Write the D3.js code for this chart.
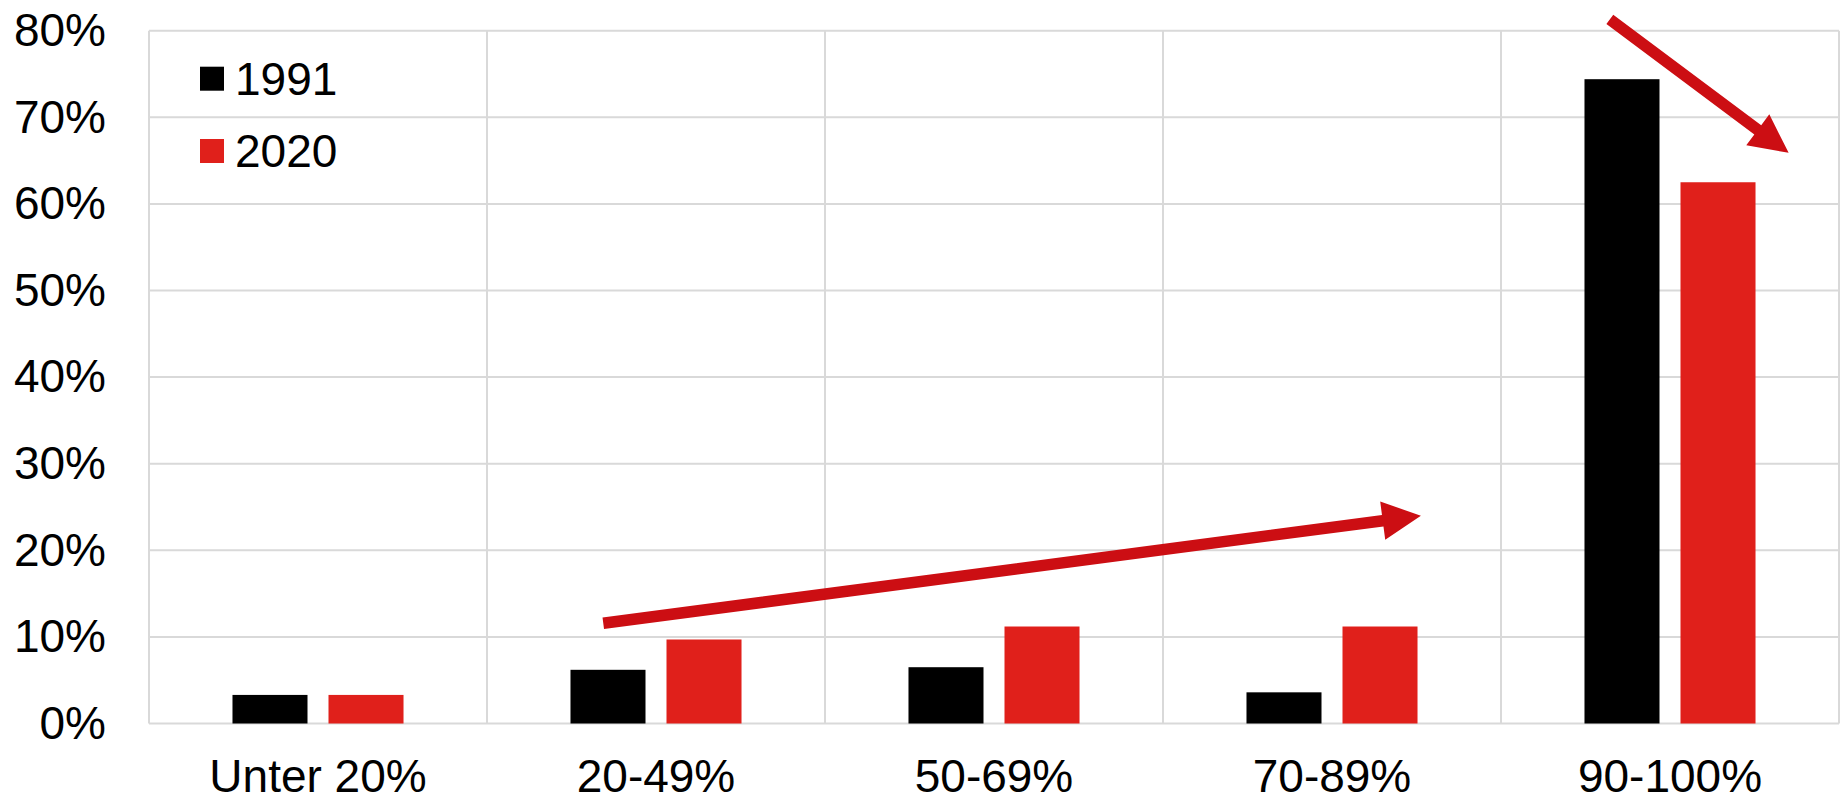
<!DOCTYPE html>
<html>
<head>
<meta charset="utf-8">
<script src="https://cdn.jsdelivr.net/npm/d3@7"></script>
<style>
  html, body { margin: 0; padding: 0; background: #ffffff; }
  svg { display: block; font-family: "Liberation Sans", Arial, sans-serif; }
</style>
</head>
<body>
<svg id="chart" width="1847" height="801"></svg>
<script>
// ---- Data ----
const categories = ["Unter 20%", "20-49%", "50-69%", "70-89%", "90-100%"];
const seriesNames = ["1991", "2020"];
const values1991 = [0.033, 0.062, 0.065, 0.036, 0.744];
const values2020 = [0.033, 0.097, 0.112, 0.112, 0.625];
const seriesColors = ["#000000", "#e0201b"];
const yTicks = [0, 0.1, 0.2, 0.3, 0.4, 0.5, 0.6, 0.7, 0.8];
const yTickLabels = ["0%", "10%", "20%", "30%", "40%", "50%", "60%", "70%", "80%"];
// Annotation arrows: [category, fraction across category, value]
const arrowFrom = [["20-49%", 0.344, 0.1157], ["90-100%", 0.322, 0.813]];
const arrowTo   = [["70-89%", 0.763, 0.240], ["90-100%", 0.851, 0.659]];
const arrowColor = "#cc0e13";

// ---- Layout ----
const W = 1847, H = 801;
const margin = { top: 30.7, right: 8, bottom: 77.5, left: 149 };
const svg = d3.select("#chart");
const plotW = W - margin.left - margin.right;
const plotH = H - margin.top - margin.bottom;
const g = svg.append("g").attr("transform", `translate(${margin.left},${margin.top})`);

const x = d3.scaleBand().domain(categories).range([0, plotW]).padding(0);
const xs = d3.scaleBand().domain(seriesNames)
  .range([x.bandwidth() * 0.247, x.bandwidth() * 0.753])
  .paddingInner(0.21875).paddingOuter(0);
const y = d3.scaleLinear().domain([0, 0.8]).range([plotH, 0]);

const gridColor = "#d9d9d9";

// horizontal gridlines
g.append("g").selectAll("line").data(yTicks).join("line")
  .attr("x1", 0).attr("x2", plotW)
  .attr("y1", d => y(d)).attr("y2", d => y(d))
  .attr("stroke", gridColor).attr("stroke-width", 2);

// vertical gridlines (category boundaries)
const bounds = categories.map(c => x(c)).concat([plotW]);
g.append("g").selectAll("line").data(bounds).join("line")
  .attr("x1", d => d).attr("x2", d => d)
  .attr("y1", 0).attr("y2", plotH)
  .attr("stroke", gridColor).attr("stroke-width", 2);

// y axis labels
const yAxis = d3.axisLeft(y).tickValues(yTicks).tickFormat((d, i) => yTickLabels[i]).tickSize(0).tickPadding(43);
const ya = g.append("g").call(yAxis);
ya.select(".domain").remove();
ya.selectAll("text").attr("font-size", 46).attr("fill", "#000")
  .attr("font-family", '"Liberation Sans", Arial, sans-serif');

// x axis labels
const xAxis = d3.axisBottom(x).tickSize(0).tickPadding(36);
const xa = g.append("g").attr("transform", `translate(0,${plotH})`).call(xAxis);
xa.select(".domain").remove();
xa.selectAll("text").attr("font-size", 46).attr("fill", "#000")
  .attr("font-family", '"Liberation Sans", Arial, sans-serif');

// bars
const seriesValues = [values1991, values2020];
seriesNames.forEach((s, si) => {
  g.append("g").selectAll("rect").data(categories).join("rect")
    .attr("x", (c) => x(c) + xs(s))
    .attr("width", xs.bandwidth())
    .attr("y", (c, i) => y(seriesValues[si][i]))
    .attr("height", (c, i) => plotH - y(seriesValues[si][i]))
    .attr("fill", seriesColors[si]);
});

// legend
const legend = g.append("g").attr("transform", "translate(51,0)");
seriesNames.forEach((s, i) => {
  const cy = 48 + i * 72.3;
  legend.append("rect").attr("x", 0).attr("y", cy - 12).attr("width", 24).attr("height", 24)
    .attr("fill", seriesColors[i]);
  legend.append("text").attr("x", 35).attr("y", cy).attr("dy", "0.35em")
    .attr("font-size", 46).attr("fill", "#000").text(s);
});

// arrows
function px(p) { return [x(p[0]) + p[1] * x.bandwidth(), y(p[2])]; }
const shaftW = 11.5, headL = 38.5, headW = 38.5;
arrowFrom.forEach((f, i) => {
  const [x0, y0] = px(f), [x1, y1] = px(arrowTo[i]);
  const dx = x1 - x0, dy = y1 - y0, len = Math.hypot(dx, dy);
  const ux = dx / len, uy = dy / len, nx = -uy, ny = ux;
  const bx = x1 - ux * headL, by = y1 - uy * headL;
  const pts = [
    [x0 + nx * shaftW / 2, y0 + ny * shaftW / 2],
    [bx + nx * shaftW / 2, by + ny * shaftW / 2],
    [bx + nx * headW / 2, by + ny * headW / 2],
    [x1, y1],
    [bx - nx * headW / 2, by - ny * headW / 2],
    [bx - nx * shaftW / 2, by - ny * shaftW / 2],
    [x0 - nx * shaftW / 2, y0 - ny * shaftW / 2]
  ];
  g.append("path").attr("d", d3.line()(pts) + "Z").attr("fill", arrowColor);
});
</script>
</body>
</html>
